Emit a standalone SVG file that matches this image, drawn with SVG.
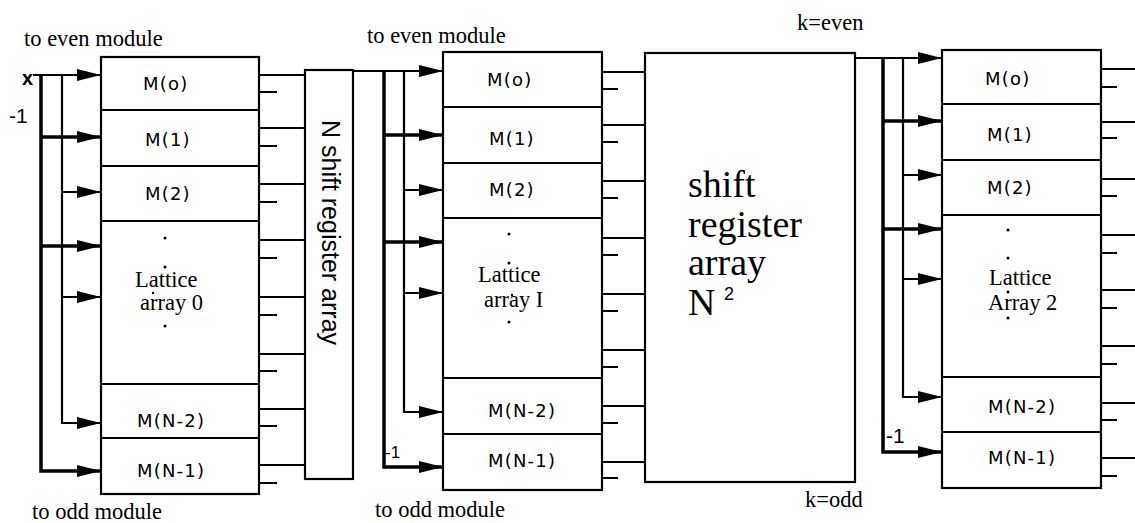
<svg xmlns="http://www.w3.org/2000/svg" width="1135" height="523" viewBox="0 0 1135 523">
<style>
.box{fill:none;stroke:#000;stroke-width:2.2}
.ln{fill:none;stroke:#000;stroke-width:2.2}
.thin{fill:none;stroke:#000;stroke-width:2.2}
.thick{fill:none;stroke:#000;stroke-width:3.5}
.ser{font-family:"Liberation Serif","Times New Roman",serif;font-size:22.5px;fill:#000}
.big{font-family:"Liberation Serif","Times New Roman",serif;font-size:38px;fill:#000}
.m{font-family:"DejaVu Sans","Liberation Sans",sans-serif;font-size:18px;letter-spacing:1.2px;fill:#000}
.sans{font-family:"Liberation Sans",Arial,sans-serif;fill:#000}
.dot{fill:#000}
</style>
<defs>
<marker id="ah" markerUnits="userSpaceOnUse" markerWidth="24" markerHeight="12" refX="24" refY="6" orient="auto">
<path d="M0,0 L24,6 L0,12 z" fill="#000"/>
</marker>
</defs>
<rect width="1135" height="523" fill="#fff"/>

<!-- free labels -->
<text class="ser" x="24" y="46">to even module</text>
<text class="ser" x="367" y="43">to even module</text>
<text class="ser" x="32" y="519">to odd module</text>
<text class="ser" x="375" y="517">to odd module</text>
<text class="ser" x="797" y="30">k=even</text>
<text class="ser" x="805" y="507">k=odd</text>
<text class="sans" x="22" y="85" font-size="20" font-weight="bold">x</text>
<text class="sans" x="9" y="123" font-size="21">-1</text>
<text class="sans" x="385" y="458" font-size="17">-1</text>
<text class="sans" x="886" y="443" font-size="21">-1</text>

<g id="lattice0">
<rect class="box" x="101" y="57" width="158" height="437"/>
<path class="ln" d="M101,110 H259 M101,166 H259 M101,221 H259 M101,384 H259 M101,438 H259"/>
<text class="m" x="143" y="90">M(o)</text>
<text class="m" x="145" y="146">M(1)</text>
<text class="m" x="145" y="200">M(2)</text>
<text class="ser" x="135" y="287">Lattice</text>
<text class="ser" x="140" y="310">array 0</text>
<circle class="dot" cx="165" cy="238" r="1.5"/>
<circle class="dot" cx="165" cy="267" r="1.5"/>
<circle class="dot" cx="153" cy="293" r="1.2"/>
<circle class="dot" cx="165" cy="326" r="1.5"/>
<text class="m" x="137" y="427">M(N-2)</text>
<text class="m" x="137" y="477">M(N-1)</text>
</g>

<g id="shiftN">
<rect class="box" x="305" y="70" width="48" height="409"/>
<text class="sans" font-size="25" transform="translate(322,120) rotate(90)">N shift register array</text>
</g>

<g id="lattice1">
<rect class="box" x="443" y="52" width="159" height="438"/>
<path class="ln" d="M443,107 H602 M443,163 H602 M443,218 H602 M443,378 H602 M443,434 H602"/>
<text class="m" x="487" y="86">M(o)</text>
<text class="m" x="489" y="145">M(1)</text>
<text class="m" x="489" y="196">M(2)</text>
<text class="ser" x="478" y="282">Lattice</text>
<text class="ser" x="484" y="307">array I</text>
<circle class="dot" cx="509" cy="234" r="1.5"/>
<circle class="dot" cx="509" cy="263" r="1.5"/>
<circle class="dot" cx="512" cy="295" r="1.2"/>
<circle class="dot" cx="509" cy="322" r="1.5"/>
<text class="m" x="488" y="417">M(N-2)</text>
<text class="m" x="488" y="467">M(N-1)</text>
</g>

<g id="shiftN2">
<rect class="box" x="645" y="53" width="210" height="429"/>
<text class="big" x="688" y="197">shift</text>
<text class="big" x="688" y="237">register</text>
<text class="big" x="688" y="275">array</text>
<text class="big" x="688" y="315">N</text>
<text class="sans" x="724" y="300" font-size="18">2</text>
</g>

<g id="lattice2">
<rect class="box" x="942" y="50" width="159" height="438"/>
<path class="ln" d="M942,104 H1101 M942,160 H1101 M942,215 H1101 M942,377 H1101 M942,432 H1101"/>
<text class="m" x="985" y="85">M(o)</text>
<text class="m" x="987" y="141">M(1)</text>
<text class="m" x="987" y="194">M(2)</text>
<text class="ser" x="989" y="285">Lattice</text>
<text class="ser" x="988" y="310">Array 2</text>
<circle class="dot" cx="1008" cy="230" r="1.5"/>
<circle class="dot" cx="1008" cy="258" r="1.5"/>
<circle class="dot" cx="1008" cy="292" r="1.5"/>
<circle class="dot" cx="1008" cy="318" r="1.5"/>
<text class="m" x="988" y="413">M(N-2)</text>
<text class="m" x="988" y="464">M(N-1)</text>
</g>

<g id="connectors">
<!-- left block inputs -->
<path class="thin" d="M33,75 H101" marker-end="url(#ah)"/>
<path class="thick" d="M41,75 V471 H101" marker-end="url(#ah)"/>
<path class="thin" d="M62,75 V423 H101" marker-end="url(#ah)"/>
<path class="thick" d="M41,137 H101" marker-end="url(#ah)"/>
<path class="thin" d="M62,192 H101" marker-end="url(#ah)"/>
<path class="thick" d="M41,246 H101" marker-end="url(#ah)"/>
<path class="thin" d="M62,297 H101" marker-end="url(#ah)"/>
<!-- left block outputs -->
<path class="ln" d="M259,75 H305 M259,128 H305 M259,184 H305 M259,240 H305 M259,297 H305 M259,354 H305 M259,409 H305 M259,465 H305"/>
<path class="ln" d="M259,92 H277 M259,146 H277 M259,202 H277 M259,258 H277 M259,315 H277 M259,371 H277 M259,426 H277 M259,483 H277"/>
<!-- middle block inputs -->
<path class="thin" d="M353,71 H443" marker-end="url(#ah)"/>
<path class="thick" d="M384,71 V467 H443" marker-end="url(#ah)"/>
<path class="thin" d="M404,71 V412 H443" marker-end="url(#ah)"/>
<path class="thick" d="M384,135 H443" marker-end="url(#ah)"/>
<path class="thin" d="M404,190 H443" marker-end="url(#ah)"/>
<path class="thick" d="M384,242 H443" marker-end="url(#ah)"/>
<path class="thin" d="M404,293 H443" marker-end="url(#ah)"/>
<!-- middle block outputs -->
<path class="ln" d="M602,72 H645 M602,125 H645 M602,181 H645 M602,238 H645 M602,294 H645 M602,350 H645 M602,406 H645 M602,462 H645"/>
<path class="ln" d="M602,89 H618 M602,142 H618 M602,198 H618 M602,255 H618 M602,311 H618 M602,367 H618 M602,423 H618 M602,478 H618"/>
<!-- right block inputs -->
<path class="thin" d="M855,58 H942" marker-end="url(#ah)"/>
<path class="thick" d="M883,58 V452 H942" marker-end="url(#ah)"/>
<path class="thin" d="M903,58 V397 H942" marker-end="url(#ah)"/>
<path class="thick" d="M883,121 H942" marker-end="url(#ah)"/>
<path class="thin" d="M903,175 H942" marker-end="url(#ah)"/>
<path class="thick" d="M883,229 H942" marker-end="url(#ah)"/>
<path class="thin" d="M903,279 H942" marker-end="url(#ah)"/>
<!-- right block outputs -->
<path class="ln" d="M1101,69 H1135 M1101,122 H1135 M1101,179 H1135 M1101,235 H1135 M1101,290 H1135 M1101,346 H1135 M1101,403 H1135 M1101,458 H1135"/>
<path class="ln" d="M1101,87 H1117 M1101,138 H1117 M1101,196 H1117 M1101,253 H1117 M1101,308 H1117 M1101,364 H1117 M1101,420 H1117 M1101,476 H1117"/>
</g>
</svg>
